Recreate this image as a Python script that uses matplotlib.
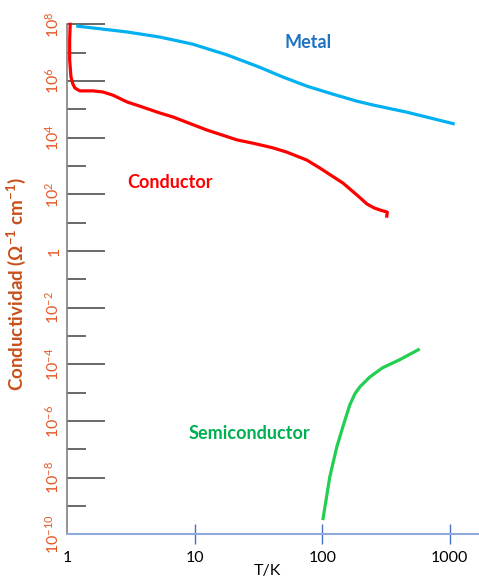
import matplotlib.pyplot as plt
from matplotlib.ticker import NullLocator, NullFormatter

plt.rcParams['font.family'] = ['Lato', 'DejaVu Sans']
plt.rcParams['mathtext.fontset'] = 'custom'
plt.rcParams['mathtext.rm'] = 'Lato'
plt.rcParams['mathtext.bf'] = 'Lato:bold'

# curves read as (T, conductivity exponent)
metal_T = [1.17, 2.93, 5.3, 9.6, 17.9, 32, 49, 75.5, 120, 186, 251, 460, 1096]
metal_log = [7.94, 7.73, 7.55, 7.30, 6.92, 6.49, 6.14, 5.82, 5.54, 5.29, 5.15, 4.90, 4.48]

cond_T = [1.05, 1.04, 1.04, 1.065, 1.10, 1.145, 1.25, 1.585, 1.90, 2.27, 2.93,
          3.70, 5.31, 6.72, 12.4, 21.4, 29.5, 40.9, 52.5, 75.5, 95.5, 145, 190,
          224, 255, 282, 324, 321]
cond_log = [8.0, 7.45, 6.74, 6.14, 5.90, 5.75, 5.65, 5.65, 5.61, 5.50, 5.26,
            5.11, 4.87, 4.73, 4.27, 3.92, 3.79, 3.64, 3.49, 3.21, 2.93, 2.40, 1.95,
            1.66, 1.52, 1.45, 1.37, 1.23]

semi_T = [101, 114.5, 130, 145, 164, 180, 197, 236, 298, 405, 582]
semi_log = [-9.50, -7.98, -6.92, -6.21, -5.45, -5.05, -4.80, -4.45, -4.12, -3.84, -3.46]

x_ticks = [1, 10, 100, 1000]
x_labels = ['1', '10', '100', '1000']
y_major = [8, 6, 4, 2, 0, -2, -4, -6, -8, -10]
y_minor = [7, 5, 3, 1, -1, -3, -5, -7, -9]

fig = plt.figure(figsize=(4.79, 5.84), dpi=100)
ax = fig.add_axes([0.1409, 0.0851, 0.8591, 0.8733])
ax.set_xscale('log')
ax.set_yscale('log')
ax.set_xlim(1, 1700)
ax.set_ylim(1e-10, 1e8)

lw = 2.3
ax.plot(metal_T, [10 ** v for v in metal_log], color='#00B0F0', lw=lw,
        solid_capstyle='butt', clip_on=False)
ax.plot(cond_T, [10 ** v for v in cond_log], color='#FF0000', lw=lw,
        solid_joinstyle='round', clip_on=False)
ax.plot(semi_T, [10 ** v for v in semi_log], color='#22CF50', lw=lw,
        solid_capstyle='butt', clip_on=False)

ax.text(76.9, 10 ** 7.375, 'Metal', color='#1F73C1', fontsize=13,
        fontweight='bold', ha='center', va='center')
ax.text(6.37, 10 ** 2.43, 'Conductor', color='#FF0000', fontsize=13,
        fontweight='bold', ha='center', va='center')
ax.text(27, 10 ** -6.43, 'Semiconductor', color='#00B050', fontsize=13,
        fontweight='bold', ha='center', va='center')

for side in ['top', 'right']:
    ax.spines[side].set_visible(False)
ax.spines['left'].set_color('#808080')
ax.spines['left'].set_linewidth(1.2)
ax.spines['bottom'].set_color('#8FAADC')
ax.spines['bottom'].set_linewidth(1.5)

# x axis
ax.xaxis.set_minor_locator(NullLocator())
ax.set_xticks(x_ticks)
ax.set_xticklabels(x_labels, fontsize=11.5)
ax.tick_params(axis='x', direction='inout', length=14, width=1,
               color='#4472C4', pad=5)
ax.xaxis.get_major_ticks()[0].tick1line.set_visible(False)
ax.get_xticklabels()[0].set_x(1.07)
ax.set_xlabel('T/K', fontsize=11.5)
ax.xaxis.set_label_coords(0.487, -0.058)

# y axis: long ticks on even powers, short ones in between
ax.set_yticks([10 ** e for e in y_major])
ax.set_yticks([10 ** e for e in y_minor], minor=True)
ax.yaxis.set_minor_formatter(NullFormatter())
ylabels = ['1' if e == 0 else r'$\mathregular{10^{%d}}$' % e for e in y_major]
ax.set_yticklabels(ylabels, fontsize=11.5, color='#E35A27', rotation=90,
                   va='center')
ax.tick_params(axis='y', which='major', direction='in', length=27.5,
               width=1.1, color='#404040', pad=4)
ax.tick_params(axis='y', which='minor', direction='in', length=13.7,
               width=1.1, color='#404040')
ax.set_ylabel('Conductividad (Ω$^{\\mathregular{-1}}$ cm$^{\\mathregular{-1}}$)',
              fontsize=13.5, fontweight='bold', color='#C8501A')
ax.yaxis.set_label_coords(-0.097, 0.49)

fig.savefig('out.png', dpi=100)
